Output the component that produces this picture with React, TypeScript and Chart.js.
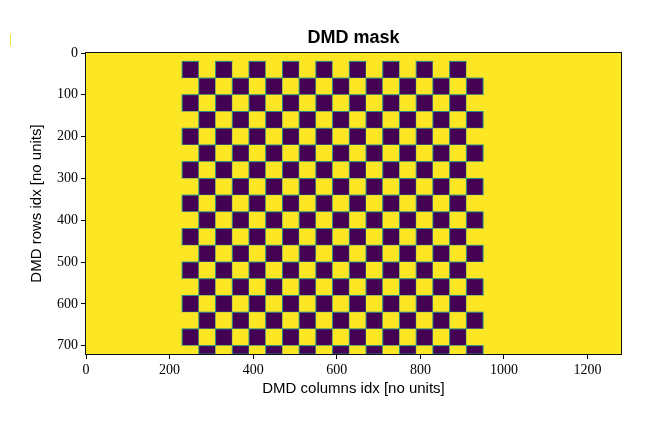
import { useEffect, useRef } from "react";
import { Chart, registerables } from "chart.js";

Chart.register(...registerables);

// ---- data ----
const titleText = "DMD mask";
const xAxisLabel = "DMD columns idx [no units]";
const yAxisLabel = "DMD rows idx [no units]";

const xTickValues = [0, 200, 400, 600, 800, 1000, 1200];
const yTickValues = [0, 100, 200, 300, 400, 500, 600, 700];

const maskExtentX = [0, 1280];
const maskExtentY = [0, 720];
const backgroundValue = 1;

const checkerColEdges = [230, 270, 310, 350, 390, 430, 470, 510, 550, 590, 630, 670, 710, 750, 790, 830, 870, 910, 950];
const checkerRowEdges = [20, 60, 100, 140, 180, 220, 260, 300, 340, 380, 420, 460, 500, 540, 580, 620, 660, 700, 720];
const checkerRows = [
  "010101010101010101",
  "101010101010101010",
  "010101010101010101",
  "101010101010101010",
  "010101010101010101",
  "101010101010101010",
  "010101010101010101",
  "101010101010101010",
  "010101010101010101",
  "101010101010101010",
  "010101010101010101",
  "101010101010101010",
  "010101010101010101",
  "101010101010101010",
  "010101010101010101",
  "101010101010101010",
  "010101010101010101",
  "101010101010101010",
];

// viridis end colours
const colorLow = "#440154";
const colorHigh = "#fde725";
const edgeColor = "rgba(33,145,140,0.95)";

const colorFor = (v: number) => (v >= 0.5 ? colorHigh : colorLow);

const maskPlugin = {
  id: "dmdMask",
  beforeDatasetsDraw(chart: any) {
    const { ctx, chartArea, scales } = chart;
    const xs = scales.x;
    const ys = scales.y;
    const px = (v: number) => xs.getPixelForValue(v);
    const py = (v: number) => ys.getPixelForValue(v);
    ctx.save();
    ctx.beginPath();
    ctx.rect(chartArea.left, chartArea.top, chartArea.right - chartArea.left, chartArea.bottom - chartArea.top);
    ctx.clip();
    ctx.fillStyle = colorFor(backgroundValue);
    ctx.fillRect(px(maskExtentX[0]), py(maskExtentY[0]), px(maskExtentX[1]) - px(maskExtentX[0]), py(maskExtentY[1]) - py(maskExtentY[0]));
    for (let r = 0; r < checkerRows.length; r++) {
      const row = checkerRows[r];
      for (let c = 0; c < row.length; c++) {
        const v = Number(row[c]);
        const x0 = px(checkerColEdges[c]);
        const x1 = px(checkerColEdges[c + 1]);
        const y0 = py(checkerRowEdges[r]);
        const y1 = py(checkerRowEdges[r + 1]);
        ctx.fillStyle = colorFor(v);
        ctx.fillRect(x0, y0, x1 - x0, y1 - y0);
        if (v < 0.5) {
          ctx.strokeStyle = edgeColor;
          ctx.lineWidth = 1;
          ctx.strokeRect(x0, y0, x1 - x0, y1 - y0);
        }
      }
    }
    ctx.restore();
  },
  afterDraw(chart: any) {
    const { ctx, chartArea } = chart;
    ctx.save();
    ctx.strokeStyle = "#111";
    ctx.lineWidth = 1;
    const l = Math.round(chartArea.left) - 0.5;
    const t = Math.round(chartArea.top) - 0.5;
    const r = Math.round(chartArea.right) + 0.5;
    const b = Math.round(chartArea.bottom) + 0.5;
    ctx.strokeRect(l, t, r - l, b - t);
    ctx.restore();
  },
};

export default function App() {
  const canvasRef = useRef<HTMLCanvasElement | null>(null);

  useEffect(() => {
    const canvas = canvasRef.current;
    if (!canvas) return;
    const tickFont = { family: "'Liberation Serif', serif", size: 14 };
    const labelFont = { family: "'Liberation Sans', sans-serif", size: 15 };
    const plainLabel = (v: any) => String(v);
    const chart = new Chart(canvas, {
      type: "scatter",
      data: { datasets: [{ data: [], pointRadius: 0 }] },
      plugins: [maskPlugin],
      options: {
        animation: false,
        responsive: false,
        devicePixelRatio: 1,
        layout: { padding: { left: 0, right: 26, top: 0, bottom: 0 } },
        plugins: {
          legend: { display: false },
          tooltip: { enabled: false },
          title: {
            display: true,
            fullSize: false,
            text: titleText,
            color: "#000",
            font: { family: "'Liberation Sans', sans-serif", size: 18, weight: "bold" },
            padding: { top: 27, bottom: 4.4 },
          },
        },
        scales: {
          x: {
            type: "linear",
            position: "bottom",
            min: maskExtentX[0],
            max: maskExtentX[1],
            afterBuildTicks: (s: any) => {
              s.ticks = xTickValues.map((value) => ({ value }));
            },
            afterFit: (s: any) => {
              s.height = 67;
            },
            ticks: { font: tickFont, color: "#000", padding: 3, maxRotation: 0, autoSkip: false, callback: plainLabel },
            grid: { drawOnChartArea: false, drawTicks: true, tickLength: 5, tickColor: "#000" },
            border: { display: false },
            title: { display: true, text: xAxisLabel, color: "#000", font: labelFont, padding: { top: 0, bottom: 23 } },
          },
          y: {
            type: "linear",
            position: "left",
            reverse: true,
            min: maskExtentY[0],
            max: maskExtentY[1],
            afterBuildTicks: (s: any) => {
              s.ticks = yTickValues.map((value) => ({ value }));
            },
            afterFit: (s: any) => {
              s.width = 86;
            },
            ticks: { font: tickFont, color: "#000", padding: 3, autoSkip: false, callback: plainLabel },
            grid: { drawOnChartArea: false, drawTicks: true, tickLength: 5, tickColor: "#000" },
            border: { display: false },
            title: { display: true, text: yAxisLabel, color: "#000", font: labelFont, padding: { top: 28, bottom: 0 } },
          },
        },
      } as any,
    });
    return () => chart.destroy();
  }, []);

  return (
    <div style={{ position: "fixed", left: 0, top: 0, width: 647, height: 421, background: "#fff", overflow: "hidden" }}>
      <canvas ref={canvasRef} width={647} height={421} style={{ display: "block", width: 647, height: 421 }} />
      <div style={{ position: "absolute", left: 10, top: 34, width: 1, height: 12, background: "#f5e04a" }} />
    </div>
  );
}
